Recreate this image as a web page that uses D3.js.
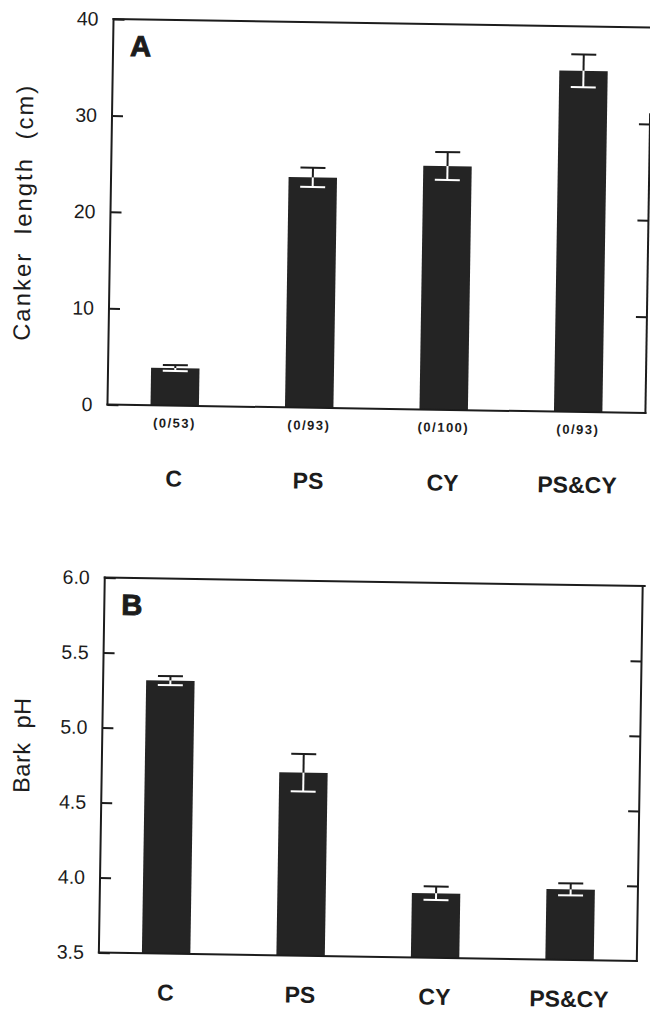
<!DOCTYPE html>
<html>
<head>
<meta charset="utf-8">
<script src="https://cdn.jsdelivr.net/npm/d3@7"></script>
<style>
  body { margin: 0; background: #fff; }
  svg { display: block; }
  text { font-family: "Liberation Sans", Arial, sans-serif; fill: #1c1c1c; }
</style>
</head>
<body>
<div id="chart"></div>
<script>
// Chart values
var categories = ["C", "PS", "CY", "PS&CY"];

// Panel A: canker length (cm)
var cankerMeans = [3.9, 23.9, 25.3, 35.4];
var cankerErrors = [0.3, 1.0, 1.45, 1.7];
var cankerCounts = ["(0/53)", "(0/93)", "(0/100)", "(0/93)"];
var cankerTicks = [0, 10, 20, 30, 40];

// Panel B: bark pH
var phMeans = [5.32, 4.72, 3.93, 3.97];
var phErrors = [0.03, 0.125, 0.045, 0.04];
var phTicks = [3.5, 4.0, 4.5, 5.0, 5.5, 6.0];

var svgWidth = 650;
var svgHeight = 1013;
var ink = "#1c1c1c";

var svg = d3.select("#chart")
  .append("svg")
  .attr("width", svgWidth)
  .attr("height", svgHeight);

// the scanned figure sits slightly tilted
var root = svg.append("g")
  .attr("transform", "rotate(0.9, 325, 500)");

var plotLeft = 106;
var plotRight = 644;

var xScale = d3.scaleBand()
  .domain(categories)
  .range([plotLeft, plotRight])
  .paddingInner(0.64)
  .paddingOuter(0.32);

function drawPanel(p) {
  var g = root.append("g");

  var yScale = d3.scaleLinear()
    .domain(p.domain)
    .range([p.bottom, p.top]);

  // bars
  g.selectAll("rect.bar")
    .data(p.means)
    .enter()
    .append("rect")
    .attr("class", "bar")
    .attr("x", (d, i) => xScale(categories[i]))
    .attr("width", xScale.bandwidth())
    .attr("y", d => yScale(d))
    .attr("height", d => yScale(p.domain[0]) - yScale(d))
    .attr("fill", "#242424");

  // error bars: black above the bar, white inside it
  var capHalf = 12.5;
  p.means.forEach((m, i) => {
    var cx = xScale(categories[i]) + xScale.bandwidth() / 2;
    var hi = yScale(m + p.errors[i]);
    var mid = yScale(m);
    var lo = yScale(m - p.errors[i]);
    g.append("line").attr("x1", cx).attr("x2", cx).attr("y1", hi).attr("y2", mid)
      .attr("stroke", ink).attr("stroke-width", 2);
    g.append("line").attr("x1", cx - capHalf).attr("x2", cx + capHalf).attr("y1", hi).attr("y2", hi)
      .attr("stroke", ink).attr("stroke-width", 2);
    g.append("line").attr("x1", cx).attr("x2", cx).attr("y1", mid).attr("y2", lo)
      .attr("stroke", "#fff").attr("stroke-width", 2);
    g.append("line").attr("x1", cx - capHalf).attr("x2", cx + capHalf).attr("y1", lo).attr("y2", lo)
      .attr("stroke", "#fff").attr("stroke-width", 2);
  });

  // left axis with inward ticks
  var leftAxis = d3.axisLeft(yScale)
    .tickValues(p.ticks)
    .tickFormat(p.format)
    .tickSizeInner(-11)
    .tickSizeOuter(0)
    .tickPadding(15);

  var la = g.append("g")
    .attr("transform", `translate(${plotLeft},0)`)
    .call(leftAxis);
  la.select(".domain").remove();
  la.selectAll("line").attr("stroke", ink).attr("stroke-width", 2);
  la.selectAll("text")
    .attr("font-family", "'Liberation Sans', Arial, sans-serif")
    .attr("font-size", "19.5px")
    .attr("fill", ink);

  // right axis, ticks only
  var rightAxis = d3.axisRight(yScale)
    .tickValues(p.rightTicks)
    .tickFormat("")
    .tickSizeInner(-11)
    .tickSizeOuter(0);

  var ra = g.append("g")
    .attr("transform", `translate(${plotRight},0)`)
    .call(rightAxis);
  ra.select(".domain").remove();
  ra.selectAll("line").attr("stroke", ink).attr("stroke-width", 2);

  // frame
  var frame = [
    [plotLeft, p.top, plotRight + 2, p.top],
    [plotLeft, p.top, plotLeft, p.bottom],
    [plotLeft, p.bottom, plotRight, p.bottom],
    [plotRight, yScale(p.rightFrom), plotRight, p.bottom]
  ];
  g.selectAll("line.frame")
    .data(frame)
    .enter()
    .append("line")
    .attr("class", "frame")
    .attr("x1", d => d[0]).attr("y1", d => d[1])
    .attr("x2", d => d[2]).attr("y2", d => d[3])
    .attr("stroke", ink)
    .attr("stroke-width", 2)
    .attr("stroke-linecap", "square");

  // panel letter
  g.append("text")
    .attr("x", 123)
    .attr("y", p.letterY)
    .attr("font-family", "'DejaVu Sans', sans-serif")
    .attr("font-weight", "bold")
    .attr("font-size", "29px")
    .attr("stroke", ink)
    .attr("stroke-width", 1)
    .text(p.letter);

  // y title
  g.append("text")
    .attr("transform", `translate(${p.titleX},${p.titleY}) rotate(-90)`)
    .attr("text-anchor", "middle")
    .attr("font-size", "23.5px")
    .attr("textLength", p.titleLength)
    .attr("lengthAdjust", "spacing")
    .style("white-space", "pre")
    .text(p.title);

  // category labels
  g.selectAll("text.cat")
    .data(categories)
    .enter()
    .append("text")
    .attr("class", "cat")
    .attr("x", d => xScale(d) + xScale.bandwidth() / 2)
    .attr("y", p.catY)
    .attr("text-anchor", "middle")
    .attr("font-size", "23px")
    .attr("font-weight", "bold")
    .text(d => d);

  // sample counts under the bars
  if (p.counts) {
    g.selectAll("text.count")
      .data(p.counts)
      .enter()
      .append("text")
      .attr("class", "count")
      .attr("x", (d, i) => xScale(categories[i]) + xScale.bandwidth() / 2)
      .attr("y", p.countY)
      .attr("text-anchor", "middle")
      .attr("font-size", "13px")
      .attr("font-weight", "bold")
      .attr("letter-spacing", "1.5px")
      .text(d => d);
  }
}

drawPanel({
  domain: [0, 40],
  top: 22.5,
  bottom: 408,
  means: cankerMeans,
  errors: cankerErrors,
  ticks: cankerTicks,
  rightTicks: [10, 20, 30],
  rightFrom: 31,
  format: d3.format("d"),
  letter: "A",
  letterY: 59,
  title: "Canker  length  (cm)",
  titleX: 27,
  titleY: 218,
  titleLength: 255,
  catY: 489,
  counts: cankerCounts,
  countY: 430
});

drawPanel({
  domain: [3.5, 6.0],
  top: 581,
  bottom: 956,
  means: phMeans,
  errors: phErrors,
  ticks: phTicks,
  rightTicks: [4.0, 4.5, 5.0, 5.5],
  rightFrom: 6.0,
  format: d3.format(".1f"),
  letter: "B",
  letterY: 618,
  title: "Bark  pH",
  titleX: 34,
  titleY: 750,
  titleLength: 95,
  catY: 1003
});
</script>
</body>
</html>
